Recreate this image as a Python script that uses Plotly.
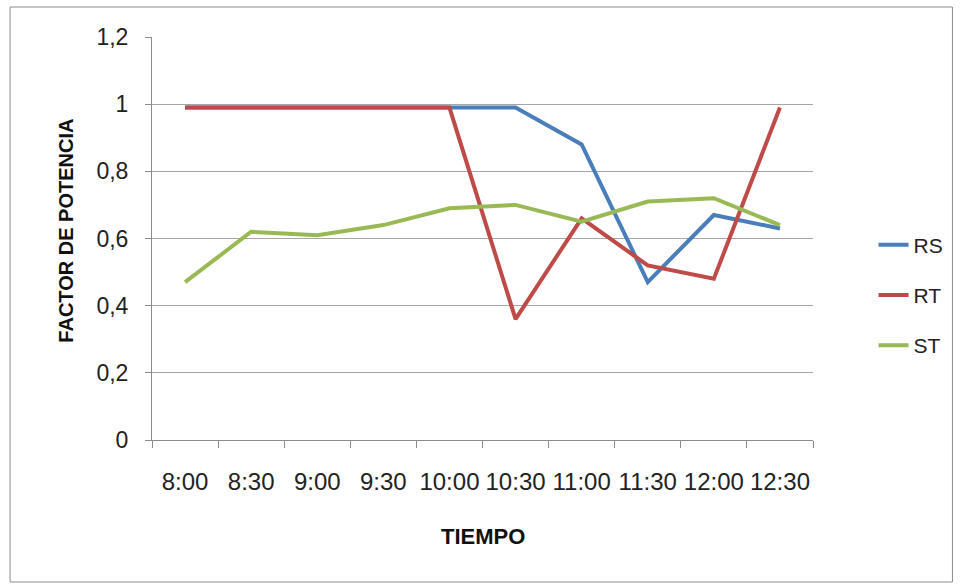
import plotly.graph_objects as go

categories = ["8:00", "8:30", "9:00", "9:30", "10:00", "10:30", "11:00", "11:30", "12:00", "12:30"]
rs = [0.99, 0.99, 0.99, 0.99, 0.99, 0.99, 0.88, 0.47, 0.67, 0.63]
rt = [0.99, 0.99, 0.99, 0.99, 0.99, 0.36, 0.66, 0.52, 0.48, 0.99]
st = [0.47, 0.62, 0.61, 0.64, 0.69, 0.70, 0.65, 0.71, 0.72, 0.64]
y_tickvals = [0, 0.2, 0.4, 0.6, 0.8, 1.0, 1.2]
y_ticktext = ["0", "0,2", "0,4", "0,6", "0,8", "1", "1,2"]

series = [("RS", rs, "#4a7ebb"), ("RT", rt, "#be4b48"), ("ST", st, "#98b954")]

FONT = "Liberation Sans, Arial, sans-serif"

fig = go.Figure()
for name, vals, color in series:
    fig.add_trace(go.Scatter(
        x=categories, y=vals, name=name, mode="lines",
        line=dict(color=color, width=4), legendgroup=name,
    ))

W, H = 960, 584
L, R, T, B = 152, 142, 37, 144
pw, ph = W - L - R, H - T - B

def px_x(x):
    return (x - L) / pw

def px_y(y):
    return (H - B - y) / ph

fig.update_layout(
    width=W, height=H,
    margin=dict(l=L, r=R, t=T, b=B),
    paper_bgcolor="white", plot_bgcolor="white",
    font=dict(family=FONT, size=20, color="#222"),
    showlegend=True,
    legend=dict(x=px_x(879), y=px_y(295), xanchor="left", yanchor="middle",
                font=dict(size=21, family=FONT, color="#222"), traceorder="grouped",
                tracegroupgap=20, bgcolor="rgba(0,0,0,0)"),
    xaxis=dict(
        type="category", range=[-0.5, len(categories) - 0.5],
        tickson="boundaries", ticks="outside", ticklen=7, tickangle=0,
        tickcolor="#8c8c8c", showline=True, linecolor="#8c8c8c", linewidth=1,
        showgrid=False, ticklabelstandoff=20, tickfont=dict(size=24, family=FONT, color="#222"),
    ),
    yaxis=dict(
        range=[0, 1.2], tickvals=y_tickvals, ticktext=y_ticktext,
        ticks="outside", ticklen=6, tickcolor="#8c8c8c",
        showline=True, linecolor="#8c8c8c", linewidth=1,
        showgrid=True, gridcolor="#a6a6a6", gridwidth=1,
        ticklabelstandoff=12, zeroline=False,
        tickfont=dict(size=23, family=FONT, color="#222"),
    ),
    annotations=[
        dict(text="<b>TIEMPO</b>", xref="paper", yref="paper", x=px_x(485), y=px_y(536),
             xanchor="center", yanchor="middle", showarrow=False,
             font=dict(size=22, family=FONT, color="#111")),
        dict(text="<b>FACTOR DE POTENCIA</b>", xref="paper", yref="paper", x=px_x(65), y=px_y(231),
             xanchor="center", yanchor="middle", showarrow=False, textangle=-90,
             font=dict(size=20, family=FONT, color="#111")),
    ],
    shapes=[dict(type="rect", xref="paper", yref="paper",
                 x0=px_x(9), x1=px_x(958.5), y0=px_y(582), y1=px_y(7),
                 line=dict(color="#8c8c8c", width=1), fillcolor="rgba(0,0,0,0)", layer="below")],
)

fig.write_html("out.html", config={"displayModeBar": False},
               post_script="document.body.style.margin='0';document.body.style.overflow='hidden';")
